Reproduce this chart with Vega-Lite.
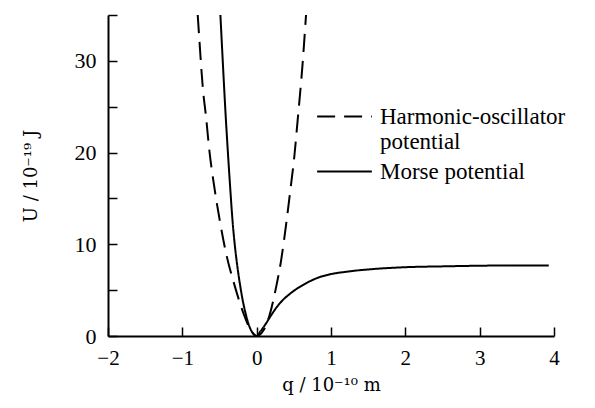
{
  "$schema": "https://vega.github.io/schema/vega-lite/v6.json",
  "width": 446,
  "height": 321,
  "autosize": {"type": "none"},
  "padding": {"left": 108, "top": 15, "right": 41, "bottom": 72},
  "background": "white",
  "config": {
    "view": {"stroke": null},
    "font": "Liberation Serif",
    "axis": {
      "grid": false,
      "domainColor": "black",
      "tickColor": "black",
      "labelColor": "black",
      "titleColor": "black",
      "domainWidth": 2,
      "tickWidth": 1.5,
      "labelFont": "Liberation Serif",
      "titleFont": "DejaVu Serif",
      "titleFontWeight": "normal"
    },
    "legend": {
      "labelFont": "Liberation Serif",
      "orient": "none",
      "title": null,
      "symbolType": "stroke",
      "symbolSize": 3000,
      "symbolStrokeWidth": 2,
      "symbolStrokeColor": "black",
      "labelFontSize": 23,
      "labelLineHeight": 26,
      "labelColor": "black",
      "labelLimit": 400,
      "labelOffset": 7,
      "labelBaseline": "middle"
    }
  },
  "data": {
    "values": [
      {"series": "Harmonic-oscillator potential", "q": -0.793, "U": 35},
      {"series": "Harmonic-oscillator potential", "q": -0.77, "U": 32.2},
      {"series": "Harmonic-oscillator potential", "q": -0.726, "U": 27.2},
      {"series": "Harmonic-oscillator potential", "q": -0.68, "U": 23.8},
      {"series": "Harmonic-oscillator potential", "q": -0.636, "U": 20.2},
      {"series": "Harmonic-oscillator potential", "q": -0.569, "U": 16.2},
      {"series": "Harmonic-oscillator potential", "q": -0.492, "U": 12.4},
      {"series": "Harmonic-oscillator potential", "q": -0.411, "U": 9.0},
      {"series": "Harmonic-oscillator potential", "q": -0.3, "U": 5.6},
      {"series": "Harmonic-oscillator potential", "q": -0.188, "U": 2.7},
      {"series": "Harmonic-oscillator potential", "q": -0.09, "U": 0.8},
      {"series": "Harmonic-oscillator potential", "q": 0, "U": 0},
      {"series": "Harmonic-oscillator potential", "q": 0.09, "U": 0.6},
      {"series": "Harmonic-oscillator potential", "q": 0.171, "U": 2.2},
      {"series": "Harmonic-oscillator potential", "q": 0.261, "U": 5.3},
      {"series": "Harmonic-oscillator potential", "q": 0.328, "U": 8.2},
      {"series": "Harmonic-oscillator potential", "q": 0.395, "U": 12.1},
      {"series": "Harmonic-oscillator potential", "q": 0.453, "U": 15.9},
      {"series": "Harmonic-oscillator potential", "q": 0.507, "U": 19.6},
      {"series": "Harmonic-oscillator potential", "q": 0.551, "U": 23.5},
      {"series": "Harmonic-oscillator potential", "q": 0.618, "U": 29.7},
      {"series": "Harmonic-oscillator potential", "q": 0.664, "U": 35.0},
      {"series": "Morse potential", "q": -0.488, "U": 35},
      {"series": "Morse potential", "q": -0.457, "U": 30.1},
      {"series": "Morse potential", "q": -0.421, "U": 24.6},
      {"series": "Morse potential", "q": -0.39, "U": 20.4},
      {"series": "Morse potential", "q": -0.358, "U": 16.4},
      {"series": "Morse potential", "q": -0.323, "U": 12.4},
      {"series": "Morse potential", "q": -0.29, "U": 9.6},
      {"series": "Morse potential", "q": -0.255, "U": 7.3},
      {"series": "Morse potential", "q": -0.22, "U": 5.4},
      {"series": "Morse potential", "q": -0.188, "U": 3.9},
      {"series": "Morse potential", "q": -0.15, "U": 2.5},
      {"series": "Morse potential", "q": -0.121, "U": 1.6},
      {"series": "Morse potential", "q": -0.08, "U": 0.7},
      {"series": "Morse potential", "q": -0.04, "U": 0.2},
      {"series": "Morse potential", "q": 0, "U": 0},
      {"series": "Morse potential", "q": 0.05, "U": 0.5},
      {"series": "Morse potential", "q": 0.12, "U": 1.3},
      {"series": "Morse potential", "q": 0.19, "U": 2.2},
      {"series": "Morse potential", "q": 0.261, "U": 3.05},
      {"series": "Morse potential", "q": 0.35, "U": 3.9},
      {"series": "Morse potential", "q": 0.44, "U": 4.55},
      {"series": "Morse potential", "q": 0.53, "U": 5.1},
      {"series": "Morse potential", "q": 0.62, "U": 5.55},
      {"series": "Morse potential", "q": 0.84, "U": 6.4},
      {"series": "Morse potential", "q": 1.0, "U": 6.75},
      {"series": "Morse potential", "q": 1.2, "U": 7.0},
      {"series": "Morse potential", "q": 1.65, "U": 7.35},
      {"series": "Morse potential", "q": 2.0, "U": 7.5},
      {"series": "Morse potential", "q": 2.55, "U": 7.6},
      {"series": "Morse potential", "q": 3.2, "U": 7.68},
      {"series": "Morse potential", "q": 3.93, "U": 7.7}
    ]
  },
  "encoding": {
    "x": {
      "field": "q",
      "type": "quantitative",
      "scale": {"domain": [-2, 4], "nice": false, "zero": false},
      "axis": {
        "values": [-2, -1, 0, 1, 2, 3, 4],
        "tickSize": -9,
        "labelPadding": 20,
        "labelFontSize": 21,
        "labelFlush": false,
        "title": "q / 10⁻¹⁰ m",
        "titleFontSize": 18,
        "titlePadding": 8
      }
    },
    "y": {
      "field": "U",
      "type": "quantitative",
      "scale": {"domain": [0, 35], "nice": false},
      "axis": {
        "values": [0, 5, 10, 15, 20, 25, 30, 35],
        "labelExpr": "datum.value % 10 == 0 ? datum.label : ''",
        "tickSize": -9,
        "labelPadding": 21,
        "labelFontSize": 22,
        "labelFlush": false,
        "title": "U / 10⁻¹⁹ J",
        "titleFontSize": 18,
        "titlePadding": 34
      }
    }
  },
  "layer": [
    {
      "transform": [{"filter": "datum.series == 'Harmonic-oscillator potential'"}],
      "mark": {"type": "line", "interpolate": "monotone", "strokeWidth": 2, "color": "black", "clip": true},
      "encoding": {
        "strokeDash": {
          "field": "series",
          "type": "nominal",
          "scale": {"domain": ["Harmonic-oscillator potential"], "range": [[18, 9]]},
          "legend": {
            "legendX": 208,
            "legendY": 73,
            "labelExpr": "['Harmonic-oscillator', 'potential']"
          }
        }
      }
    },
    {
      "transform": [{"filter": "datum.series == 'Morse potential'"}],
      "mark": {"type": "line", "interpolate": "monotone", "strokeWidth": 2, "color": "black", "clip": true},
      "encoding": {
        "strokeDash": {
          "field": "series",
          "type": "nominal",
          "scale": {"domain": ["Morse potential"], "range": [[1, 0]]},
          "legend": {
            "legendX": 208,
            "legendY": 128
          }
        }
      }
    }
  ],
  "resolve": {"scale": {"strokeDash": "independent"}, "legend": {"strokeDash": "independent"}}
}
